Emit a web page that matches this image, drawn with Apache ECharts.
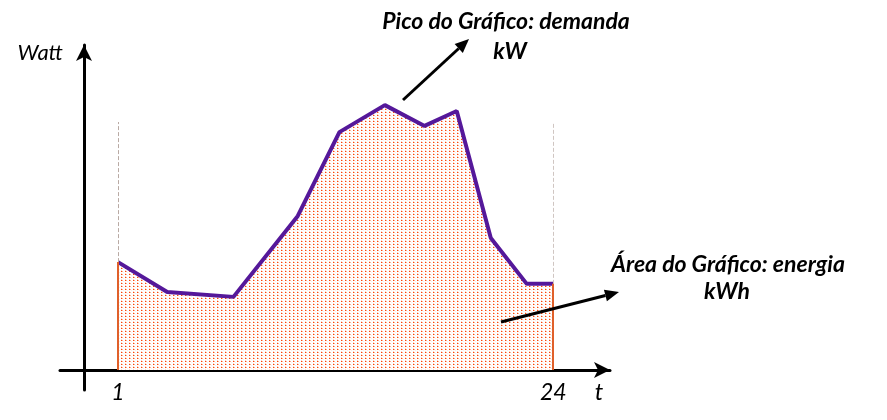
<!DOCTYPE html>
<html>
<head>
<meta charset="utf-8">
<script src="https://cdn.jsdelivr.net/npm/echarts@6/dist/echarts.min.js"></script>
<style>html,body{margin:0;padding:0;background:#fff}#c{width:887px;height:420px}</style>
</head>
<body>
<div id="c"></div>
<script>
const tValues = [1, 3.6, 7.1, 10.5, 12.7, 15.1, 17.2, 18.9, 20.7, 22.6, 24];
const wattValues = [33.2, 24.0, 22.5, 47.4, 73.2, 81.5, 75.1, 79.7, 40.6, 26.5, 26.5];
const tickLabels = [1, 24];
const guideTop = 76.3;

const chart = echarts.init(document.getElementById('c'), null, {renderer: 'canvas'});

function dotPattern() {
  const cv = document.createElement('canvas');
  cv.width = 4; cv.height = 3;
  const ctx = cv.getContext('2d');
  ctx.fillStyle = '#ffffff';
  ctx.fillRect(0, 0, 4, 3);
  ctx.fillStyle = 'rgba(250,70,10,1)';
  ctx.fillRect(1, 1, 1, 1);
  ctx.fillStyle = 'rgba(250,100,40,0.5)';
  ctx.fillRect(2, 1, 1, 1);
  ctx.fillStyle = 'rgba(250,120,60,0.3)';
  ctx.fillRect(1, 0, 1, 1);
  ctx.fillStyle = 'rgba(250,140,90,0.15)';
  ctx.fillRect(3, 2, 1, 1);
  return cv;
}

function arrowGraphic(x1, y1, x2, y2) {
  const ang = Math.atan2(y2 - y1, x2 - x1);
  const L = 14, W = 6;
  const bx = x2 - L * Math.cos(ang), by = y2 - L * Math.sin(ang);
  const px = -Math.sin(ang), py = Math.cos(ang);
  return [
    {type: 'line', z: 100, shape: {x1: x1, y1: y1, x2: bx, y2: by}, style: {stroke: '#000', lineWidth: 3}},
    {type: 'polygon', z: 100, shape: {points: [[x2, y2], [bx + px * W, by + py * W], [bx - px * W, by - py * W]]}, style: {fill: '#000'}}
  ];
}

const data = tValues.map((t, i) => [t, wattValues[i]]);
const first = data[0], last = data[data.length - 1];

const textFont = {fontFamily: 'Lato', fontStyle: 'italic', fontWeight: 'bold', fontSize: 23, fill: '#000'};

chart.setOption({
  animation: false,
  grid: {left: 60, right: 277, top: 45, bottom: 30},
  xAxis: {
    type: 'value', min: -2.067, max: 27.0,
    splitLine: {show: false},
    axisTick: {show: false},
    axisLine: {onZero: true, lineStyle: {color: '#000', width: 3}, symbol: ['none', 'arrow'], symbolSize: [12, 16]},
    axisLabel: {customValues: tickLabels, color: '#000', fontFamily: 'Lato', fontStyle: 'italic', fontSize: 23, margin: -9}
  },
  yAxis: {
    type: 'value', min: -6.154, max: 100, offset: -24,
    splitLine: {show: false},
    axisTick: {show: false},
    axisLabel: {show: false},
    axisLine: {onZero: false, lineStyle: {color: '#000', width: 3}, symbol: ['none', 'arrow'], symbolSize: [12, 16]}
  },
  series: [{
    type: 'line',
    data: data,
    symbol: 'none',
    lineStyle: {color: '#55189a', width: 4},
    areaStyle: {color: {image: dotPattern(), repeat: 'repeat'}, opacity: 1, origin: 0},
    markLine: {
      silent: true, symbol: 'none', label: {show: false},
      data: [
        [{coord: [first[0], first[1]], lineStyle: {color: '#b9aaa4', width: 1, type: 'dashed'}}, {coord: [first[0], guideTop]}],
        [{coord: [last[0], last[1]], lineStyle: {color: '#d0c6c2', width: 1, type: 'dashed'}}, {coord: [last[0], guideTop]}],
        [{coord: [first[0], 0], lineStyle: {color: '#e0602a', width: 2, type: 'solid'}}, {coord: [first[0], first[1]]}],
        [{coord: [last[0], 0], lineStyle: {color: '#e0602a', width: 2, type: 'solid'}}, {coord: [last[0], last[1]]}]
      ]
    },
    z: 3
  }],
  graphic: [
    {type: 'text', z: 100, x: 63, y: 53, style: {text: 'Watt', fontFamily: 'Lato', fontStyle: 'italic', fontSize: 22, fill: '#000', align: 'right', verticalAlign: 'middle'}},
    {type: 'text', z: 100, x: 599, y: 392, style: {text: 't', fontFamily: 'Lato', fontStyle: 'italic', fontSize: 24, fill: '#000', align: 'center', verticalAlign: 'middle'}},
    {type: 'text', z: 100, x: 506, y: 22, style: Object.assign({text: 'Pico do Gráfico: demanda', align: 'center', verticalAlign: 'middle'}, textFont)},
    {type: 'text', z: 100, x: 510, y: 52, style: Object.assign({text: 'kW', align: 'center', verticalAlign: 'middle'}, textFont)},
    {type: 'text', z: 100, x: 728, y: 265, style: Object.assign({text: 'Área do Gráfico: energia', align: 'center', verticalAlign: 'middle'}, textFont)},
    {type: 'text', z: 100, x: 727, y: 292, style: Object.assign({text: 'kWh', align: 'center', verticalAlign: 'middle'}, textFont)}
  ].concat(arrowGraphic(403, 100, 469, 39)).concat(arrowGraphic(501, 322, 619, 292))
});
</script>
</body>
</html>
